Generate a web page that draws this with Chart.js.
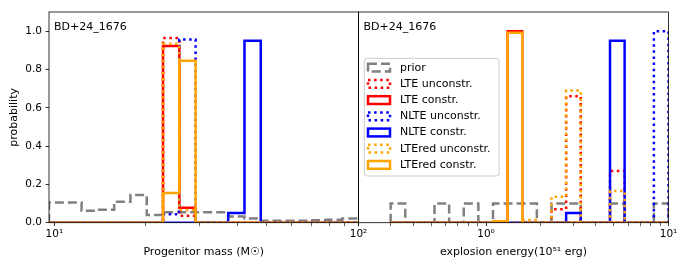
<!doctype html>
<html>
<head>
<title>BD+24_1676 mass and energy</title>
<script src="https://cdn.jsdelivr.net/npm/chart.js@4/dist/chart.umd.min.js"></script>
<style>
body{margin:0;background:#fff;}
#wrap{position:relative;width:687px;height:269px;}
#wrap canvas{position:absolute;left:0;top:0;}
</style>
</head>
<body>
<div id="wrap">
	<canvas id="mass" width="687" height="269"></canvas>
	<canvas id="energy" width="687" height="269"></canvas>
</div>
<script>
const starName = 'BD+24_1676';
const seriesNames = ['prior', 'LTE unconstr.', 'LTE constr.', 'NLTE unconstr.', 'NLTE constr.', 'LTEred unconstr.', 'LTEred constr.'];

// histogram bin edges (log spaced)
const massEdges = [9.6, 10.86, 12.286, 13.899, 15.723, 17.787, 20.122, 22.763, 25.751, 29.131, 32.955, 37.28, 42.174, 47.71, 53.973, 61.058, 69.073, 78.139, 88.397, 100];
const energyEdges = [0.3, 0.3608, 0.43393, 0.52188, 0.62766, 0.75488, 0.90788, 1.0919, 1.31319, 1.57937, 1.89947, 2.28447, 2.7475, 3.30438, 3.97415, 4.77957, 5.74825, 6.91346, 8.3147, 10];

// probability per bin, progenitor mass
const massPrior    = [0.105, 0.105, 0.063, 0.068, 0.11, 0.145, 0.04, 0.055, 0.055, 0.055, 0.055, 0.032, 0.022, 0.01, 0.01, 0.01, 0.013, 0.015, 0.022];
const massLteUnc   = [0, 0, 0, 0, 0, 0, 0, 0.964, 0.036, 0, 0, 0, 0, 0, 0, 0, 0, 0, 0];
const massLteCon   = [0, 0, 0, 0, 0, 0, 0, 0.922, 0.078, 0, 0, 0, 0, 0, 0, 0, 0, 0, 0];
const massNlteUnc  = [0, 0, 0, 0, 0, 0, 0, 0.044, 0.956, 0, 0, 0, 0, 0, 0, 0, 0, 0, 0];
const massNlteCon  = [0, 0, 0, 0, 0, 0, 0, 0, 0, 0, 0, 0.05, 0.95, 0, 0, 0, 0, 0, 0];
const massRedUnc   = [0, 0, 0, 0, 0, 0, 0, 0.934, 0.066, 0, 0, 0, 0, 0, 0, 0, 0, 0, 0];
const massRedCon   = [0, 0, 0, 0, 0, 0, 0, 0.155, 0.845, 0, 0, 0, 0, 0, 0, 0, 0, 0, 0];

// probability per bin, explosion energy
const enPrior   = [0.1, 0, 0, 0.1, 0, 0.1, 0, 0.1, 0.1, 0.1, 0, 0.1, 0.1, 0, 0, 0.1, 0, 0, 0.1];
const enLteUnc  = [0, 0, 0, 0, 0, 0, 0, 0, 0, 0, 0, 0.07, 0.66, 0, 0, 0.27, 0, 0, 0];
const enLteCon  = [0, 0, 0, 0, 0, 0, 0, 0, 1.0, 0, 0, 0, 0, 0, 0, 0, 0, 0, 0];
const enNlteUnc = [0, 0, 0, 0, 0, 0, 0, 0, 0, 0, 0, 0, 0, 0, 0, 0, 0, 0, 1.0];
const enNlteCon = [0, 0, 0, 0, 0, 0, 0, 0, 0, 0, 0, 0, 0.05, 0, 0, 0.95, 0, 0, 0];
const enRedUnc  = [0, 0, 0, 0, 0, 0, 0, 0, 0, 0.014, 0, 0.135, 0.69, 0, 0, 0.165, 0, 0, 0];
const enRedCon  = [0, 0, 0, 0, 0, 0, 0, 0.008, 0.992, 0, 0, 0, 0, 0, 0, 0, 0, 0, 0];

// ticks
const yTicks = [0, 0.2, 0.4, 0.6, 0.8, 1.0];
const massTicks = [10, 20, 30, 40, 50, 60, 70, 80, 90, 100];
const massTickLabels = {10: '10\u00b9', 100: '10\u00b2'};
const energyTicks = [0.2, 0.3, 0.4, 0.5, 0.6, 0.7, 0.8, 0.9, 1, 2, 3, 4, 5, 6, 7, 8, 9, 10];
const energyTickLabels = {1: '10\u2070', 10: '10\u00b9'};

const colors = ['#808080', '#ff0000', '#ff0000', '#0000ff', '#0000ff', '#ffa500', '#ffa500'];
const dashes = [[9, 4], [2.5, 3.6], [], [2.5, 3.6], [], [2.5, 3.6], []];
const LW = 2.5;

Chart.defaults.font.family = 'DejaVu Sans';
Chart.defaults.font.size = 11;
Chart.defaults.color = '#000';

function stepPoints(edges, vals) {
	const pts = [{x: edges[0], y: 0}];
	vals.forEach((v, i) => {
		pts.push({x: edges[i], y: v}, {x: edges[i + 1], y: v});
	});
	pts.push({x: edges[edges.length - 1], y: 0});
	return pts;
}

function makeDatasets(edges, series) {
	return series.map((vals, i) => ({
		label: seriesNames[i],
		data: stepPoints(edges, vals),
		borderColor: colors[i],
		borderWidth: LW,
		borderDash: dashes[i],
		borderCapStyle: 'butt',
		borderJoinStyle: 'miter',
		pointRadius: 0,
		fill: false,
		tension: 0,
		clip: 0,
		order: series.length - i
	}));
}

const framePlugin = {
	id: 'frame',
	afterDatasetsDraw(chart) {
		const a = chart.chartArea, ctx = chart.ctx;
		ctx.save();
		ctx.strokeStyle = '#000';
		ctx.lineWidth = 0.8;
		ctx.strokeRect(a.left, a.top, a.right - a.left, a.bottom - a.top);
		ctx.font = '11px "DejaVu Sans"';
		ctx.fillStyle = '#000';
		ctx.textBaseline = 'middle';
		ctx.textAlign = 'left';
		ctx.fillText(starName, a.left + 5, a.top + 15.3);
		ctx.restore();
	}
};

const legendPlugin = {
	id: 'boxLegend',
	afterDraw(chart) {
		const ctx = chart.ctx;
		const x0 = 364.3, y0 = 58.3, w = 134.7, h = 117.7, r = 3;
		ctx.save();
		ctx.beginPath();
		ctx.roundRect(x0, y0, w, h, r);
		ctx.fillStyle = 'rgba(255,255,255,0.8)';
		ctx.fill();
		ctx.strokeStyle = '#cccccc';
		ctx.lineWidth = 1;
		ctx.stroke();
		ctx.font = '11px "DejaVu Sans"';
		ctx.textBaseline = 'middle';
		ctx.textAlign = 'left';
		seriesNames.forEach((name, i) => {
			const cy = 67.7 + i * 16.2;
			ctx.setLineDash(dashes[i]);
			ctx.strokeStyle = colors[i];
			ctx.lineWidth = LW;
			ctx.lineCap = 'butt';
			ctx.lineJoin = 'miter';
			ctx.strokeRect(368, cy - 3.9, 22, 7.8);
			ctx.setLineDash([]);
			ctx.fillStyle = '#000';
			ctx.fillText(name, 400, cy);
		});
		ctx.restore();
	}
};

function xScale(min, max, ticks, labels, title) {
	return {
		type: 'logarithmic',
		min: min,
		max: max,
		afterBuildTicks: s => { s.ticks = ticks.map(v => ({value: v, major: v in labels})); },
		afterFit: s => { s.height = 46.3; },
		ticks: {
			autoSkip: false,
			maxRotation: 0,
			padding: 2,
			font: {size: 10.5},
			callback: v => labels[v] || ''
		},
		grid: {
			drawOnChartArea: false,
			drawTicks: true,
			tickLength: 3.5,
			tickColor: '#000',
			tickWidth: c => (c.tick && c.tick.major ? 0.8 : 0.6)
		},
		border: {display: false},
		title: {display: true, text: title, font: {size: 11}, padding: {top: 0, bottom: 10.4}}
	};
}

function yScale(show) {
	return {
		display: show,
		min: 0,
		max: 1.1,
		afterBuildTicks: s => { s.ticks = yTicks.map(v => ({value: v})); },
		afterFit: s => { s.width = show ? 49 : 0; },
		ticks: {
			padding: 3.5,
			font: {size: 10.5},
			callback: v => v.toFixed(1)
		},
		grid: {
			drawOnChartArea: false,
			drawTicks: true,
			tickLength: 3.5,
			tickColor: '#000',
			tickWidth: 0.8
		},
		border: {display: false},
		title: {display: true, text: 'probability', font: {size: 11}, padding: {top: 7.4, bottom: 0}}
	};
}

new Chart(document.getElementById('mass'), {
	type: 'line',
	data: {
		datasets: makeDatasets(massEdges, [massPrior, massLteUnc, massLteCon, massNlteUnc, massNlteCon, massRedUnc, massRedCon])
	},
	options: {
		responsive: false,
		animation: false,
		layout: {padding: {left: 0, right: 328.5, top: 12, bottom: 0}},
		plugins: {legend: {display: false}, tooltip: {enabled: false}},
		scales: {
			x: xScale(9.6, 100, massTicks, massTickLabels, 'Progenitor mass (M\u2609)'),
			y: yScale(true)
		}
	},
	plugins: [framePlugin]
});

new Chart(document.getElementById('energy'), {
	type: 'line',
	data: {
		datasets: makeDatasets(energyEdges, [enPrior, enLteUnc, enLteCon, enNlteUnc, enNlteCon, enRedUnc, enRedCon])
	},
	options: {
		responsive: false,
		animation: false,
		layout: {padding: {left: 358.5, right: 18.5, top: 12, bottom: 0}},
		plugins: {legend: {display: false}, tooltip: {enabled: false}},
		scales: {
			x: xScale(0.2, 10, energyTicks, energyTickLabels, 'explosion energy(10\u2075\u00b9 erg)'),
			y: yScale(false)
		}
	},
	plugins: [framePlugin, legendPlugin]
});
</script>
</body>
</html>
